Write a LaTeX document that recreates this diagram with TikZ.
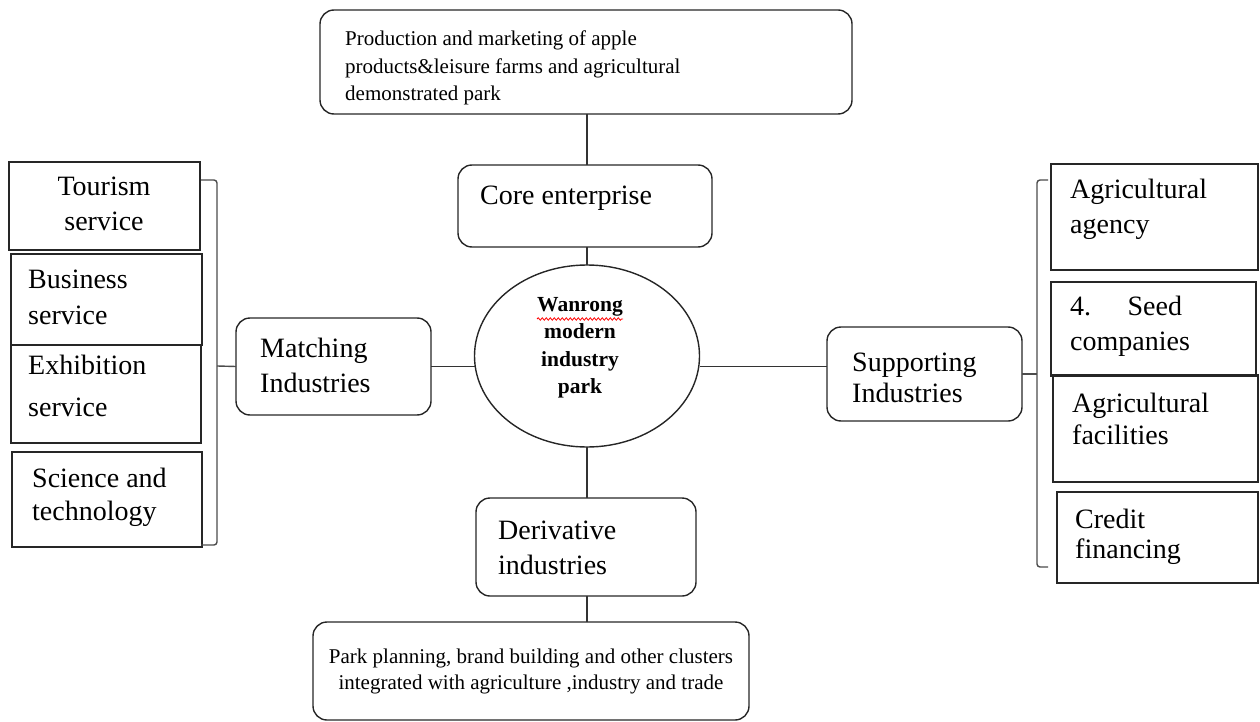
\documentclass[tikz,border=0pt]{standalone}
\usepackage{fontspec}
\setmainfont{Liberation Serif}
\usetikzlibrary{shapes.geometric,decorations.pathmorphing}
\begin{document}
\begin{tikzpicture}[x=1pt,y=-1pt,
  rbox/.style={draw=black!85, line width=1.4pt, rounded corners=14pt, inner sep=0pt, outer sep=0pt, anchor=north west},
  sbox/.style={draw=black!85, line width=1.4pt, inner sep=0pt, outer sep=0pt, anchor=north west},
  conn/.style={draw=black!80, line width=1.4pt},
  brk/.style={draw=black!70, line width=1.4pt, rounded corners=3pt},
  big/.style={inner sep=0pt, align=left, anchor=north west, font=\fontsize{28}{35}\selectfont},
  small/.style={inner sep=0pt, align=left, anchor=north west, font=\fontsize{21}{27.5}\selectfont},
]
\useasboundingbox (0,0) rectangle (1260,722);

% ---- boxes ----
\node[rbox, minimum width=532pt, minimum height=104pt] (top) at (320,10) {};
\node[rbox, minimum width=254pt, minimum height=82pt] (core) at (458,165) {};
\node[draw=black!85, line width=1.4pt, ellipse, minimum width=225pt, minimum height=182pt, inner sep=0pt, outer sep=0pt] (park) at (587,356) {};
\node[rbox, minimum width=195pt, minimum height=97pt] (match) at (236,318) {};
\node[rbox, minimum width=195pt, minimum height=94pt] (supp) at (827,327) {};
\node[rbox, minimum width=220pt, minimum height=98pt] (deriv) at (476,498) {};
\node[rbox, minimum width=436pt, minimum height=98pt] (bottom) at (313,622) {};

\node[sbox, minimum width=191pt, minimum height=88pt] (tour) at (9,162) {};
\node[sbox, minimum width=191pt, minimum height=91pt] (bus) at (11,254) {};
\node[sbox, minimum width=190pt, minimum height=98pt] (exh) at (11,345) {};
\node[sbox, minimum width=190pt, minimum height=95pt] (sci) at (12,452) {};

\node[sbox, minimum width=207pt, minimum height=106pt] (agen) at (1051,164) {};
\node[sbox, minimum width=205pt, minimum height=94pt] (seed) at (1051,282) {};
\node[sbox, minimum width=205pt, minimum height=107pt] (fac) at (1053,375) {};
\node[sbox, minimum width=201pt, minimum height=91pt] (cred) at (1057,492) {};

% ---- texts ----
\node[small] (ttop) at (345,31) {Production and marketing of apple\\products\&leisure farms and agricultural\\demonstrated park};
\node[big] (tcore) at (480,186) {Core enterprise};
\node[inner sep=0pt, align=center, anchor=north, font=\bfseries\fontsize{21.5}{27.5}\selectfont] (tpark) at (580,297) {Wanrong\\modern\\industry\\park};
\draw[red, line width=0.8pt, decorate, decoration={snake, amplitude=1.2pt, segment length=4pt}] (537,319) -- (623,319);
\node[big] (tmatch) at (260,338) {Matching\\Industries};
\node[big, font=\fontsize{28}{31}\selectfont] (tsupp) at (852,353) {Supporting\\Industries};
\node[big] (tderiv) at (498,521) {Derivative\\industries};
\node[inner sep=0pt, align=center, anchor=north, font=\fontsize{21}{26}\selectfont] (tbot) at (531,649) {Park planning, brand building and other clusters\\integrated with agriculture ,industry and trade};

\node[big, align=center, anchor=north] (ttour) at (104,177) {Tourism\\service};
\node[big, font=\fontsize{28}{36}\selectfont] (tbus) at (28,270) {Business\\service};
\node[big, font=\fontsize{28}{42}\selectfont] (texh) at (28,355) {Exhibition\\service};
\node[big, font=\fontsize{28}{33}\selectfont] (tsci) at (32,468) {Science and\\technology};

\node[big] (tagen) at (1070,179) {Agricultural\\agency};
\node[big] (tseed) at (1070,296) {4.\hspace{1.3em}Seed\\companies};
\node[big, font=\fontsize{28}{32}\selectfont] (tfac) at (1072,393) {Agricultural\\facilities};
\node[big, font=\fontsize{28}{30}\selectfont] (tcred) at (1075,509) {Credit\\financing};

% ---- connectors ----
\draw[conn] (top.south -| park.north) -- (core.north -| park.north);
\draw[conn] (core.south -| park.north) -- (park.north);
\draw[conn] (park.south) -- (park.south |- deriv.north);
\draw[conn] (park.south |- deriv.south) -- (park.south |- bottom.north);
\draw[conn] (match.east) -- (park.west |- match.east);
\draw[conn] (park.east |- match.east) -- (supp.west |- match.east);

% ---- brackets ----
\coordinate (lt) at (201,180);
\coordinate (lb) at (201,545);
\coordinate (lv) at (217,366);
\draw[brk] (lt) -- (lt -| lv) -- (lb -| lv) -- (lb);
\draw[brk] (lv) -- (match.west);
\coordinate (rt) at (1048,180);
\coordinate (rb) at (1048,567);
\coordinate (rv) at (1037,374);
\draw[brk] (rt) -- (rt -| rv) -- (rb -| rv) -- (rb);
\draw[brk] (supp.east) -- (rv);
\end{tikzpicture}
\end{document}
